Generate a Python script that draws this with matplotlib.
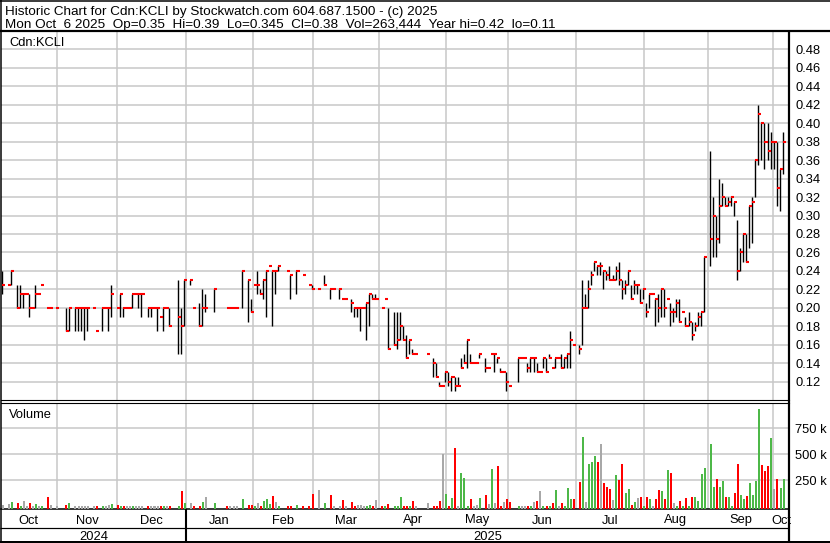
# Stockwatch style historic chart for Cdn:KCLI
# daily bars (high-low line + close tick) and coloured volume

import numpy as np
import matplotlib
matplotlib.use("Agg")
import matplotlib.pyplot as plt
from matplotlib.lines import Line2D

plt.rcParams['font.family'] = ['Liberation Sans', 'DejaVu Sans']
plt.rcParams['font.size'] = 9.3

# One slot per session, None = no trade that day
high = [
    .24, None, .225, .24, None, .225, .225, .215, .215, .215,
    .20, .225, .215, .225, None, .20, .20, None, .20, None,
    None, .20, .20, None, .20, .20, .20, .20, .20, None,
    .20, .175, None, .20, .20, .20, .225, None, .20, .215,
    .20, .20, .20, .215, .215, .215, .215, None, .20, .20,
    .20, .20, .19, .20, .20, .20, None, None, .23, .20,
    .23, None, .23, .20, None, .205, .22, .215, None, None,
    .22, None, None, None, .20, .20, .20, .20, None, .24,
    None, .23, .21, .225, .24, .22, .23, .24, .245, .24,
    .24, .245, None, None, .24, .235, None, .24, None, .235,
    None, .225, .225, None, .22, None, .235, None, .22, .22,
    None, .22, .21, .21, None, .21, .20, .20, .20, .20,
    .205, .215, .215, .215, None, .20, .21, .20, None, .195,
    .195, .195, .18, .17, .165, .155, .15, None, None, None,
    .15, None, .145, .14, .12, .115, .13, .13, .125, .125,
    .125, .145, .15, .165, .15, .14, .14, .15, None, .145,
    .135, .15, .15, .145, .135, .13, .13, .115, None, None,
    .145, .145, .145, .14, .145, .145, .14, .13, .145, .145,
    .15, .135, .145, .145, .15, .145, .15, .175, .16, None,
    .16, .23, .215, .23, .24, .25, .245, .25, .24, .24,
    .245, .235, .245, .25, .23, .23, .24, .225, .23, .225,
    .22, .22, .205, .215, .215, .21, .215, .22, .22, .21,
    .205, .20, .21, .21, .195, .19, .195, .185, .185, .195,
    .195, .255, None, .37, .32, .30, .34, .335, .32, .32,
    .32, .315, .295, .265, .28, .28, .31, .32, .36, .42,
    .40, .40, .40, .39, .38, .38, .35, .39]

low = [
    .215, None, .225, .225, None, .20, .20, .20, .215, .19,
    .20, .20, .215, .225, None, .20, .20, None, .20, None,
    None, .175, .175, None, .175, .175, .175, .165, .175, None,
    .20, .175, None, .175, .20, .175, .19, None, .20, .19,
    .19, .20, .20, .20, .215, .20, .19, None, .19, .19,
    .20, .175, .19, .175, .20, .18, None, None, .15, .15,
    .18, None, .225, .20, None, .18, .18, .195, None, None,
    .195, None, None, None, .20, .20, .20, .20, None, .20,
    None, .185, .195, .225, .215, .215, .21, .19, .245, .18,
    .215, .24, None, None, .24, .21, None, .215, None, .235,
    None, .225, .22, None, .22, None, .225, None, .21, .22,
    None, .21, .21, .21, None, .195, .19, .19, .175, .20,
    .165, .18, .21, .21, None, .20, .21, .155, None, .16,
    .155, .165, .165, .145, .15, .15, .15, None, None, None,
    .15, None, .125, .125, .115, .115, .12, .115, .11, .11,
    .115, .135, .14, .135, .14, .14, .14, .145, None, .13,
    .135, .15, .13, .14, .13, .13, .11, .115, None, None,
    .12, .145, .145, .13, .13, .13, .13, .13, .135, .13,
    .145, .135, .135, .145, .135, .135, .135, .135, .16, None,
    .15, .16, .20, .20, .225, .24, .235, .235, .22, .23,
    .23, .23, .23, .225, .21, .215, .225, .21, .215, .215,
    .205, .21, .19, .20, .215, .18, .185, .19, .19, .21,
    .18, .185, .19, .185, .195, .18, .18, .165, .175, .18,
    .18, .195, None, .245, .255, .255, .27, .31, .31, .31,
    .31, .30, .23, .24, .25, .25, .265, .27, .32, .355,
    .36, .35, .36, .35, .35, .31, .305, .345]

close = [
    .225, None, .225, .24, None, .20, .215, .215, .215, .20,
    .20, .215, .215, .225, None, .20, .20, None, .20, None,
    None, .175, .20, None, .20, .20, .20, .20, .20, None,
    .20, .175, None, .20, .20, .20, .215, None, .20, .215,
    .20, .20, .20, .215, .215, .215, .215, None, .20, .20,
    .20, .20, .19, .20, .20, .18, None, None, .19, .18,
    .23, None, .23, .20, None, .18, .20, .20, None, None,
    .22, None, None, None, .20, .20, .20, .20, None, .24,
    None, .23, .195, .225, .225, .215, .23, .24, .245, .24,
    .24, .245, None, None, .24, .235, None, .24, None, .235,
    None, .225, .22, None, .22, None, .225, None, .22, .22,
    None, .22, .21, .21, None, .205, .20, .20, .20, .20,
    .205, .215, .21, .21, None, .20, .21, .155, None, .16,
    .165, .18, .165, .145, .165, .15, .15, None, None, None,
    .15, None, .14, .125, .115, .115, .13, .12, .125, .115,
    .115, .135, .14, .165, .14, .14, .14, .15, None, .135,
    .135, .15, .15, .145, .13, .13, .12, .115, None, None,
    .145, .145, .145, .135, .145, .145, .13, .13, .145, .13,
    .145, .135, .145, .145, .135, .145, .15, .165, .16, None,
    .155, .20, .20, .22, .235, .25, .245, .245, .24, .235,
    .23, .23, .24, .23, .22, .225, .24, .21, .225, .225,
    .205, .22, .195, .215, .215, .21, .20, .22, .20, .21,
    .195, .195, .205, .185, .195, .18, .185, .17, .18, .19,
    .195, .255, None, .275, .30, .275, .31, .32, .31, .315,
    .32, .315, .24, .26, .28, .25, .31, .315, .36, .41,
    .40, .38, .37, .38, .38, .33, .35, .38]

# volume in thousands of shares
volume_k = [
    12, 0, 26, 45, 0, 35, 3, 50, 3, 35,
    6, 26, 3, 3, 0, 93, 13, 0, 3, 0,
    0, 13, 32, 0, 3, 3, 3, 3, 3, 0,
    3, 3, 0, 3, 3, 13, 22, 0, 16, 3,
    3, 3, 3, 3, 3, 3, 3, 0, 3, 6,
    3, 3, 3, 6, 3, 3, 0, 0, 3, 147,
    32, 0, 32, 3, 0, 3, 45, 93, 0, 0,
    35, 0, 0, 0, 3, 3, 3, 3, 0, 70,
    0, 16, 16, 3, 35, 3, 50, 70, 19, 100,
    45, 3, 0, 0, 3, 3, 0, 16, 0, 3,
    0, 3, 115, 0, 160, 0, 35, 0, 112, 3,
    0, 3, 61, 3, 0, 42, 6, 10, 10, 3,
    3, 16, 3, 61, 0, 3, 3, 26, 0, 3,
    3, 93, 3, 3, 3, 51, 3, 0, 0, 0,
    29, 0, 3, 3, 51, 500, 119, 3, 83, 558,
    3, 317, 272, 3, 70, 3, 13, 80, 0, 109,
    26, 359, 29, 388, 3, 38, 67, 42, 0, 0,
    3, 3, 3, 3, 3, 38, 51, 147, 3, 3,
    3, 32, 154, 3, 32, 3, 176, 70, 70, 0,
    231, 667, 42, 407, 423, 484, 426, 599, 224, 189,
    163, 61, 301, 253, 407, 131, 167, 16, 42, 77,
    90, 3, 90, 70, 3, 70, 157, 147, 70, 349,
    320, 32, 3, 51, 3, 80, 3, 90, 90, 51,
    311, 369, 0, 599, 189, 263, 186, 244, 90, 90,
    3, 128, 407, 109, 70, 99, 224, 109, 244, 936,
    397, 340, 388, 657, 167, 263, 176, 263]

price_ticks = [0.12, 0.14, 0.16, 0.18, 0.20, 0.22, 0.24, 0.26, 0.28,
               0.30, 0.32, 0.34, 0.36, 0.38, 0.40, 0.42, 0.44, 0.46, 0.48]
vol_ticks = [250, 500, 750]
vol_labels = ['250 k', '500 k', '750 k']

# month changes, in session slots
month_names = ['Oct', 'Nov', 'Dec', 'Jan', 'Feb', 'Mar', 'Apr',
               'May', 'Jun', 'Jul', 'Aug', 'Sep', 'Oct']
month_bounds = [18.1, 38.0, 60.7, 82.6, 102.3, 124.3, 146.1,
                166.7, 188.9, 211.4, 232.3, 253.9]
year_names = ['2024', '2025']
year_bounds = [60.7]

title1 = 'Historic Chart for Cdn:KCLI by Stockwatch.com 604.687.1500 - (c) 2025'
title2 = ('Mon Oct  6 2025  Op=0.35  Hi=0.39  Lo=0.345  Cl=0.38  '
          'Vol=263,444  Year hi=0.42  lo=0.11')
symbol = 'Cdn:KCLI'

GRID = '#c8c8c8'
UP, DOWN, SAME = '#4db848', '#ff0000', '#a8a8a8'

W, H = 830, 543
fig = plt.figure(figsize=(W / 100, H / 100), dpi=100, facecolor='white')


def box(l, t, r, b):
    return fig.add_axes([l / W, 1 - b / H, (r - l) / W, (b - t) / H])


def fig_line(x0, y0, x1, y1, lw):
    fig.add_artist(Line2D([x0 / W, x1 / W], [1 - y0 / H, 1 - y1 / H],
                          transform=fig.transFigure, color='black',
                          lw=lw * 0.72, solid_capstyle='butt'))


hi = np.array(high, dtype=float)
lo = np.array(low, dtype=float)
cl = np.array(close, dtype=float)
vol = np.array(volume_k, dtype=float)
slot = np.arange(len(cl))
ok = ~np.isnan(cl)

XL = (-0.23, 259.07)

# ---- price panel ----
ax = box(1, 31, 789, 400)
ax.set_xlim(XL)
ax.set_ylim(0.10, 0.50)
ax.set_xticks([])
ax.set_yticks(price_ticks)
ax.set_yticklabels(['%.2f' % t for t in price_ticks])
ax.yaxis.tick_right()
ax.tick_params(axis='y', length=0, pad=4.5)
ax.grid(axis='y', color=GRID, lw=1.1)
for b in month_bounds:
    ax.axvline(b, color=GRID, lw=1.1, zorder=0)
ax.set_axisbelow(True)
for s in ['left', 'top', 'right']:
    ax.spines[s].set_visible(False)
ax.spines['bottom'].set_linewidth(0.8)

ax.vlines(slot[ok], lo[ok], hi[ok], color='black', lw=1.0, zorder=3)
ax.hlines(cl[ok], slot[ok], slot[ok] + 1.0, color='red', lw=1.5, zorder=4)
ax.text(8 / 788, 1 - 15.5 / 369, symbol, transform=ax.transAxes,
        ha='left', va='baseline')

# ---- volume panel ----
prev = np.full(len(cl), np.nan)
last = np.nan
for i in range(len(cl)):
    prev[i] = last
    if ok[i]:
        last = cl[i]
colors = []
for c, p in zip(cl, prev):
    if np.isnan(p) or c == p:
        colors.append(SAME)
    elif c > p:
        colors.append(UP)
    else:
        colors.append(DOWN)
colors = np.array(colors)

axv = box(1, 402.5, 789, 509)
axv.set_xlim(XL)
axv.set_ylim(-26, 998)
axv.set_xticks([])
axv.set_yticks(vol_ticks)
axv.set_yticklabels(vol_labels)
axv.yaxis.tick_right()
axv.tick_params(axis='y', length=0, pad=4.5)
axv.grid(axis='y', color=GRID, lw=1.1)
for b in month_bounds:
    axv.axvline(b, color=GRID, lw=1.1, zorder=0)
axv.set_axisbelow(True)
for s in ['left', 'right']:
    axv.spines[s].set_visible(False)
axv.spines['top'].set_linewidth(0.8)
axv.spines['bottom'].set_linewidth(1.1)
axv.bar(slot[ok] - 0.05, vol[ok] + 26, bottom=-26, width=0.66,
        align='edge', color=colors[ok], zorder=3)
axv.text(8 / 788, 1 - 15.8 / 106.5, 'Volume', transform=axv.transAxes,
         ha='left', va='baseline')

# ---- date rows ----
axd = box(1, 509, 789, 541)
axd.set_xlim(XL)
axd.set_ylim(0, 1)
axd.axis('off')
edges = [XL[0]] + month_bounds + [XL[1]]
for name, a, b in zip(month_names, edges[:-1], edges[1:]):
    axd.text((a + b) / 2, (541 - 523.5) / 32, name, ha='center', va='baseline')
yedges = [XL[0]] + year_bounds + [XL[1]]
for name, a, b in zip(year_names, yedges[:-1], yedges[1:]):
    axd.text((a + b) / 2, (541 - 539.5) / 32, name, ha='center', va='baseline')
for b in year_bounds:
    axd.axvline(b, color='black', lw=1.5)

# ---- frame and header ----
fig_line(0, 0.7, W, 0.7, 1.5)
fig_line(0, 31, W, 31, 2.2)
fig_line(0.7, 0, 0.7, H, 1.5)
fig_line(789, 31, 789, 541.5, 2.2)
fig_line(0, 527.5, 789, 527.5, 1.2)
fig_line(0, 541.5, W, 541.5, 2.0)
fig.text(5 / W, 1 - 14.5 / H, title1, ha='left', va='baseline', fontsize=9.7)
fig.text(5 / W, 1 - 28 / H, title2, ha='left', va='baseline', fontsize=9.7)

fig.savefig('out.png', dpi=100, facecolor='white')
